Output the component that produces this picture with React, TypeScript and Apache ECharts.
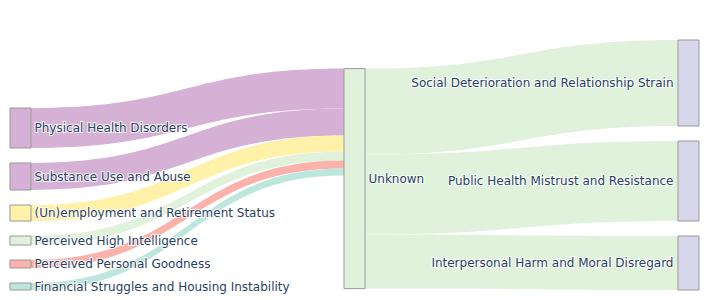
import React, { useEffect, useRef } from "react";
import * as echarts from "echarts";

const sourceNodes = [
  "Physical Health Disorders",
  "Substance Use and Abuse",
  "(Un)employment and Retirement Status",
  "Perceived High Intelligence",
  "Perceived Personal Goodness",
  "Financial Struggles and Housing Instability",
];
const sourceValues = [40, 27, 16, 9, 8, 7];
const sourceColors = ["#d5b1d5", "#d5b1d5", "#fff1a8", "#e0f2dc", "#fbb2ab", "#bde6dc"];

const middleNode = "Unknown";
const middleColor = "#e0f2dc";

const targetNodes = [
  "Social Deterioration and Relationship Strain",
  "Public Health Mistrust and Resistance",
  "Interpersonal Harm and Moral Disregard",
];
const targetValues = [86, 80, 54];
const targetColor = "#d8d6ea";

export default function App() {
  const ref = useRef<HTMLDivElement>(null);
  useEffect(() => {
    document.body.style.margin = "0";
    if (!ref.current) return;
    const chart = echarts.init(ref.current, undefined, { renderer: "svg" });
    const labelBase = {
      color: "#2a3f5f",
      fontFamily: "DejaVu Sans",
      fontSize: 12,
      textBorderColor: "rgba(255,255,255,0.9)",
      textBorderWidth: 2,
      distance: 3,
    };
    const nodes: any[] = [];
    sourceNodes.forEach((n, i) =>
      nodes.push({ name: n, itemStyle: { color: sourceColors[i] }, label: { position: "right" } })
    );
    nodes.push({ name: middleNode, itemStyle: { color: middleColor }, label: { position: "right" } });
    targetNodes.forEach((n) =>
      nodes.push({ name: n, itemStyle: { color: targetColor }, label: { position: "left", distance: 4 } })
    );
    const links: any[] = [];
    sourceNodes.forEach((n, i) =>
      links.push({ source: n, target: middleNode, value: sourceValues[i], lineStyle: { color: sourceColors[i] } })
    );
    targetNodes.forEach((n, i) =>
      links.push({ source: middleNode, target: n, value: targetValues[i], lineStyle: { color: middleColor } })
    );
    chart.setOption({
      animation: false,
      series: [
        {
          type: "sankey",
          left: 10,
          right: 9,
          top: 40,
          bottom: 10,
          nodeWidth: 21,
          nodeGap: 15,
          nodeAlign: "justify",
          layoutIterations: 32,
          draggable: false,
          emphasis: { disabled: true },
          itemStyle: { borderColor: "#999", borderWidth: 1 },
          lineStyle: { opacity: 1, curveness: 0.5 },
          label: labelBase,
          data: nodes,
          links: links,
        },
      ],
    });
    return () => chart.dispose();
  }, []);
  return <div ref={ref} style={{ width: 708, height: 300 }} />;
}
